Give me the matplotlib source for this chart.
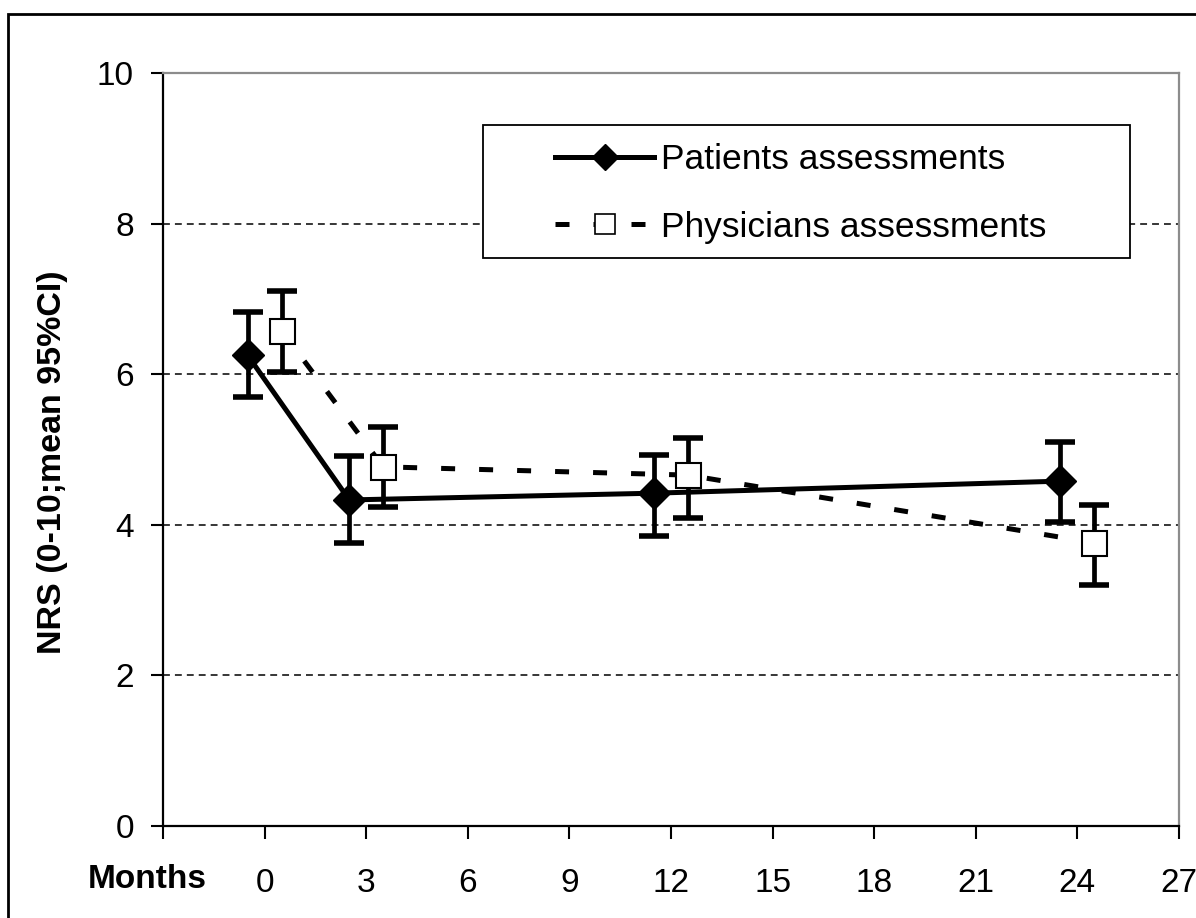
import matplotlib
matplotlib.use("Agg")
import matplotlib.pyplot as plt
from matplotlib.patches import Rectangle

plt.rcParams['font.family'] = ['Liberation Sans', 'DejaVu Sans']

# patients' assessments (mean with 95% CI), plotted slightly left of the visit
pat_x = [-0.5, 2.5, 11.5, 23.5]
pat_mean = [6.25, 4.33, 4.42, 4.58]
pat_lo = [5.70, 3.76, 3.85, 4.04]
pat_hi = [6.83, 4.91, 4.93, 5.10]

# physicians' assessments, plotted slightly right of the visit
phy_x = [0.5, 3.5, 12.5, 24.5]
phy_mean = [6.58, 4.77, 4.66, 3.76]
phy_lo = [6.03, 4.24, 4.09, 3.20]
phy_hi = [7.10, 5.30, 5.15, 4.26]

x_ticks = [-3, 0, 3, 6, 9, 12, 15, 18, 21, 24, 27]
x_labels = [""] + [str(t) for t in x_ticks[1:]]
y_ticks = [0, 2, 4, 6, 8, 10]
grid_y = [2, 4, 6, 8]


def err(mean, lo, hi):
    return [[m - l for m, l in zip(mean, lo)], [h - m for m, h in zip(mean, hi)]]


fig = plt.figure(figsize=(11.96, 9.18), dpi=100)
ax = fig.add_axes([0.1363, 0.1002, 0.8495, 0.8203])

for g in grid_y:
    ax.axhline(g, color="black", lw=1.1, linestyle=(0, (4.5, 3.3)), zorder=1)

# physicians
ax.errorbar(phy_x, phy_mean, yerr=err(phy_mean, phy_lo, phy_hi), fmt="none",
            ecolor="black", elinewidth=3.4, capsize=11, capthick=4, zorder=3)
ax.plot(phy_x, phy_mean, color="black", lw=3.6, linestyle=(0, (2.8, 4.8)),
        dash_capstyle="butt", zorder=3)
ax.plot(phy_x, phy_mean, linestyle="none", marker="s", markersize=18,
        markerfacecolor="white", markeredgecolor="black", markeredgewidth=1.5, zorder=5)

# patients
ax.errorbar(pat_x, pat_mean, yerr=err(pat_mean, pat_lo, pat_hi), fmt="none",
            ecolor="black", elinewidth=3.4, capsize=11, capthick=4, zorder=4)
ax.plot(pat_x, pat_mean, color="black", lw=3.6, marker="D", markersize=16,
        markerfacecolor="black", markeredgecolor="black", zorder=4)

# legend handles (proxy lines)
h1, = ax.plot([], [], color="black", lw=3.6, marker="D", markersize=13)
h2, = ax.plot([], [], color="black", lw=3.6, linestyle=(0, (2.8, 4.8)),
              marker="s", markersize=14, markerfacecolor="white",
              markeredgecolor="black", markeredgewidth=1.2)

ax.add_patch(Rectangle((0.315, 0.754), 0.637, 0.177, transform=ax.transAxes,
                       facecolor="white", edgecolor="black", lw=1.3, zorder=6))
ax.legend([h1, h2], ["Patients assessments", "Physicians assessments"],
          loc="center left", bbox_to_anchor=(0.386, 0.840), frameon=False,
          fontsize=25.5, handlelength=2.8, handletextpad=0.2, labelspacing=0.97,
          borderpad=0, borderaxespad=0, numpoints=1).set_zorder(7)

ax.set_xlim(-3, 27)
ax.set_ylim(0, 10)
ax.set_xticks(x_ticks)
ax.set_xticklabels(x_labels)
ax.set_yticks(y_ticks)
ax.tick_params(axis="x", direction="out", length=9, width=1.5, pad=21, labelsize=24)
ax.tick_params(axis="y", direction="out", length=9, width=1.5, pad=12, labelsize=24)

for side in ["left", "bottom"]:
    ax.spines[side].set_color("black")
    ax.spines[side].set_linewidth(1.6)
for side in ["top", "right"]:
    ax.spines[side].set_color("#8c8c8c")
    ax.spines[side].set_linewidth(1.6)

ax.set_ylabel("NRS (0-10;mean 95%CI)", fontsize=24.5, fontweight="bold")
ax.yaxis.set_label_coords(-0.0935, 0.483)
fig.text(147 / 1196, 1 - 880 / 918, "Months", fontsize=24, fontweight="bold",
         ha="center", va="center")

# outer chart border
fig.patches.append(Rectangle((8 / 1196, -0.05), 1.1, 1.05 - 14 / 918,
                             transform=fig.transFigure, fill=False,
                             edgecolor="black", lw=2))

fig.savefig("out.png", dpi=100)
